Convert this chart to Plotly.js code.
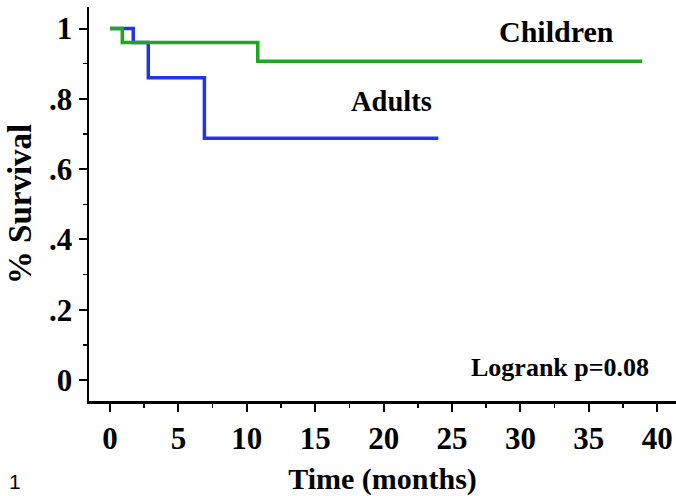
<!DOCTYPE html>
<html>
<head>
<meta charset="utf-8">
<script src="https://cdn.plot.ly/plotly-3.0.1.min.js"></script>
<style>
html,body{margin:0;padding:0;background:#fff;}
#chart{width:676px;height:496px;}
</style>
</head>
<body>
<div id="chart"></div>
<script>
// Kaplan-Meier survival data
var childrenTime = [0, 0.9, 10.8, 38.9];
var childrenSurv = [1.0, 0.96, 0.907, 0.907];
var adultsTime = [0, 1.7, 2.8, 6.9, 24.0];
var adultsSurv = [1.0, 0.96, 0.86, 0.688, 0.688];

var yTickVals = [0, 0.2, 0.4, 0.6, 0.8, 1];
var yTickText = ["0", ".2", ".4", ".6", ".8", "1"];
var xTickVals = [0, 5, 10, 15, 20, 25, 30, 35, 40];

var labelChildren = "Children";
var labelAdults = "Adults";
var labelLogrank = "Logrank p=0.08";
var figureNumber = "1";

var serif = "Liberation Serif, Times New Roman, serif";

var traces = [
  {x: adultsTime, y: adultsSurv, mode: 'lines', line: {shape: 'hv', color: '#1f35e6', width: 3.5}, name: labelAdults, hoverinfo: 'skip'},
  {x: childrenTime, y: childrenSurv, mode: 'lines', line: {shape: 'hv', color: '#1ea81e', width: 3.5}, name: labelChildren, hoverinfo: 'skip'}
];

var layout = {
  width: 676, height: 496,
  margin: {l: 89, r: 0, t: 7, b: 95},
  paper_bgcolor: '#fff', plot_bgcolor: '#fff',
  showlegend: false,
  xaxis: {
    range: [-1.535, 41.37],
    tickvals: xTickVals,
    ticks: 'outside', ticklen: 8, tickwidth: 2, tickcolor: '#000',
    minor: {dtick: 2.5, tick0: 0, ticks: 'outside', ticklen: 4, tickwidth: 1.5, tickcolor: '#000'},
    showline: true, linecolor: '#000', linewidth: 2.5,
    showgrid: false, zeroline: false,
    tickfont: {family: serif, size: 31, color: '#000', weight: 700},
    title: {text: 'Time (months)', font: {family: serif, size: 30, color: '#000', weight: 700}, standoff: 15}
  },
  yaxis: {
    range: [-0.0597, 1.0612],
    tickvals: yTickVals, ticktext: yTickText,
    ticks: 'outside', ticklen: 8, tickwidth: 2, tickcolor: '#000',
    minor: {dtick: 0.1, tick0: 0, ticks: 'outside', ticklen: 4, tickwidth: 1.5, tickcolor: '#000'},
    showline: true, linecolor: '#000', linewidth: 2.5,
    showgrid: false, zeroline: false,
    tickfont: {family: serif, size: 31, color: '#000', weight: 700},
    title: {text: '% Survival', font: {family: serif, size: 33, color: '#000', weight: 700}, standoff: 8}
  },
  annotations: [
    {xref: 'paper', yref: 'paper', x: 0.7956, y: 0.939, xanchor: 'center', yanchor: 'middle', text: labelChildren, showarrow: false,
     font: {family: serif, size: 30, color: '#000', weight: 700}},
    {xref: 'paper', yref: 'paper', x: 0.516, y: 0.761, xanchor: 'center', yanchor: 'middle', text: labelAdults, showarrow: false,
     font: {family: serif, size: 28.5, color: '#000', weight: 700}},
    {xref: 'paper', yref: 'paper', x: 0.803, y: 0.084, xanchor: 'center', yanchor: 'middle', text: labelLogrank, showarrow: false,
     font: {family: serif, size: 26, color: '#000', weight: 700}},
    {xref: 'paper', yref: 'paper', x: -0.126, y: -0.2055, xanchor: 'center', yanchor: 'middle', text: figureNumber, showarrow: false,
     borderpad: 0,
     font: {family: 'Liberation Sans, Arial, sans-serif', size: 21, color: '#000'}}
  ]
};

Plotly.newPlot('chart', traces, layout, {displayModeBar: false, staticPlot: true});
</script>
</body>
</html>
